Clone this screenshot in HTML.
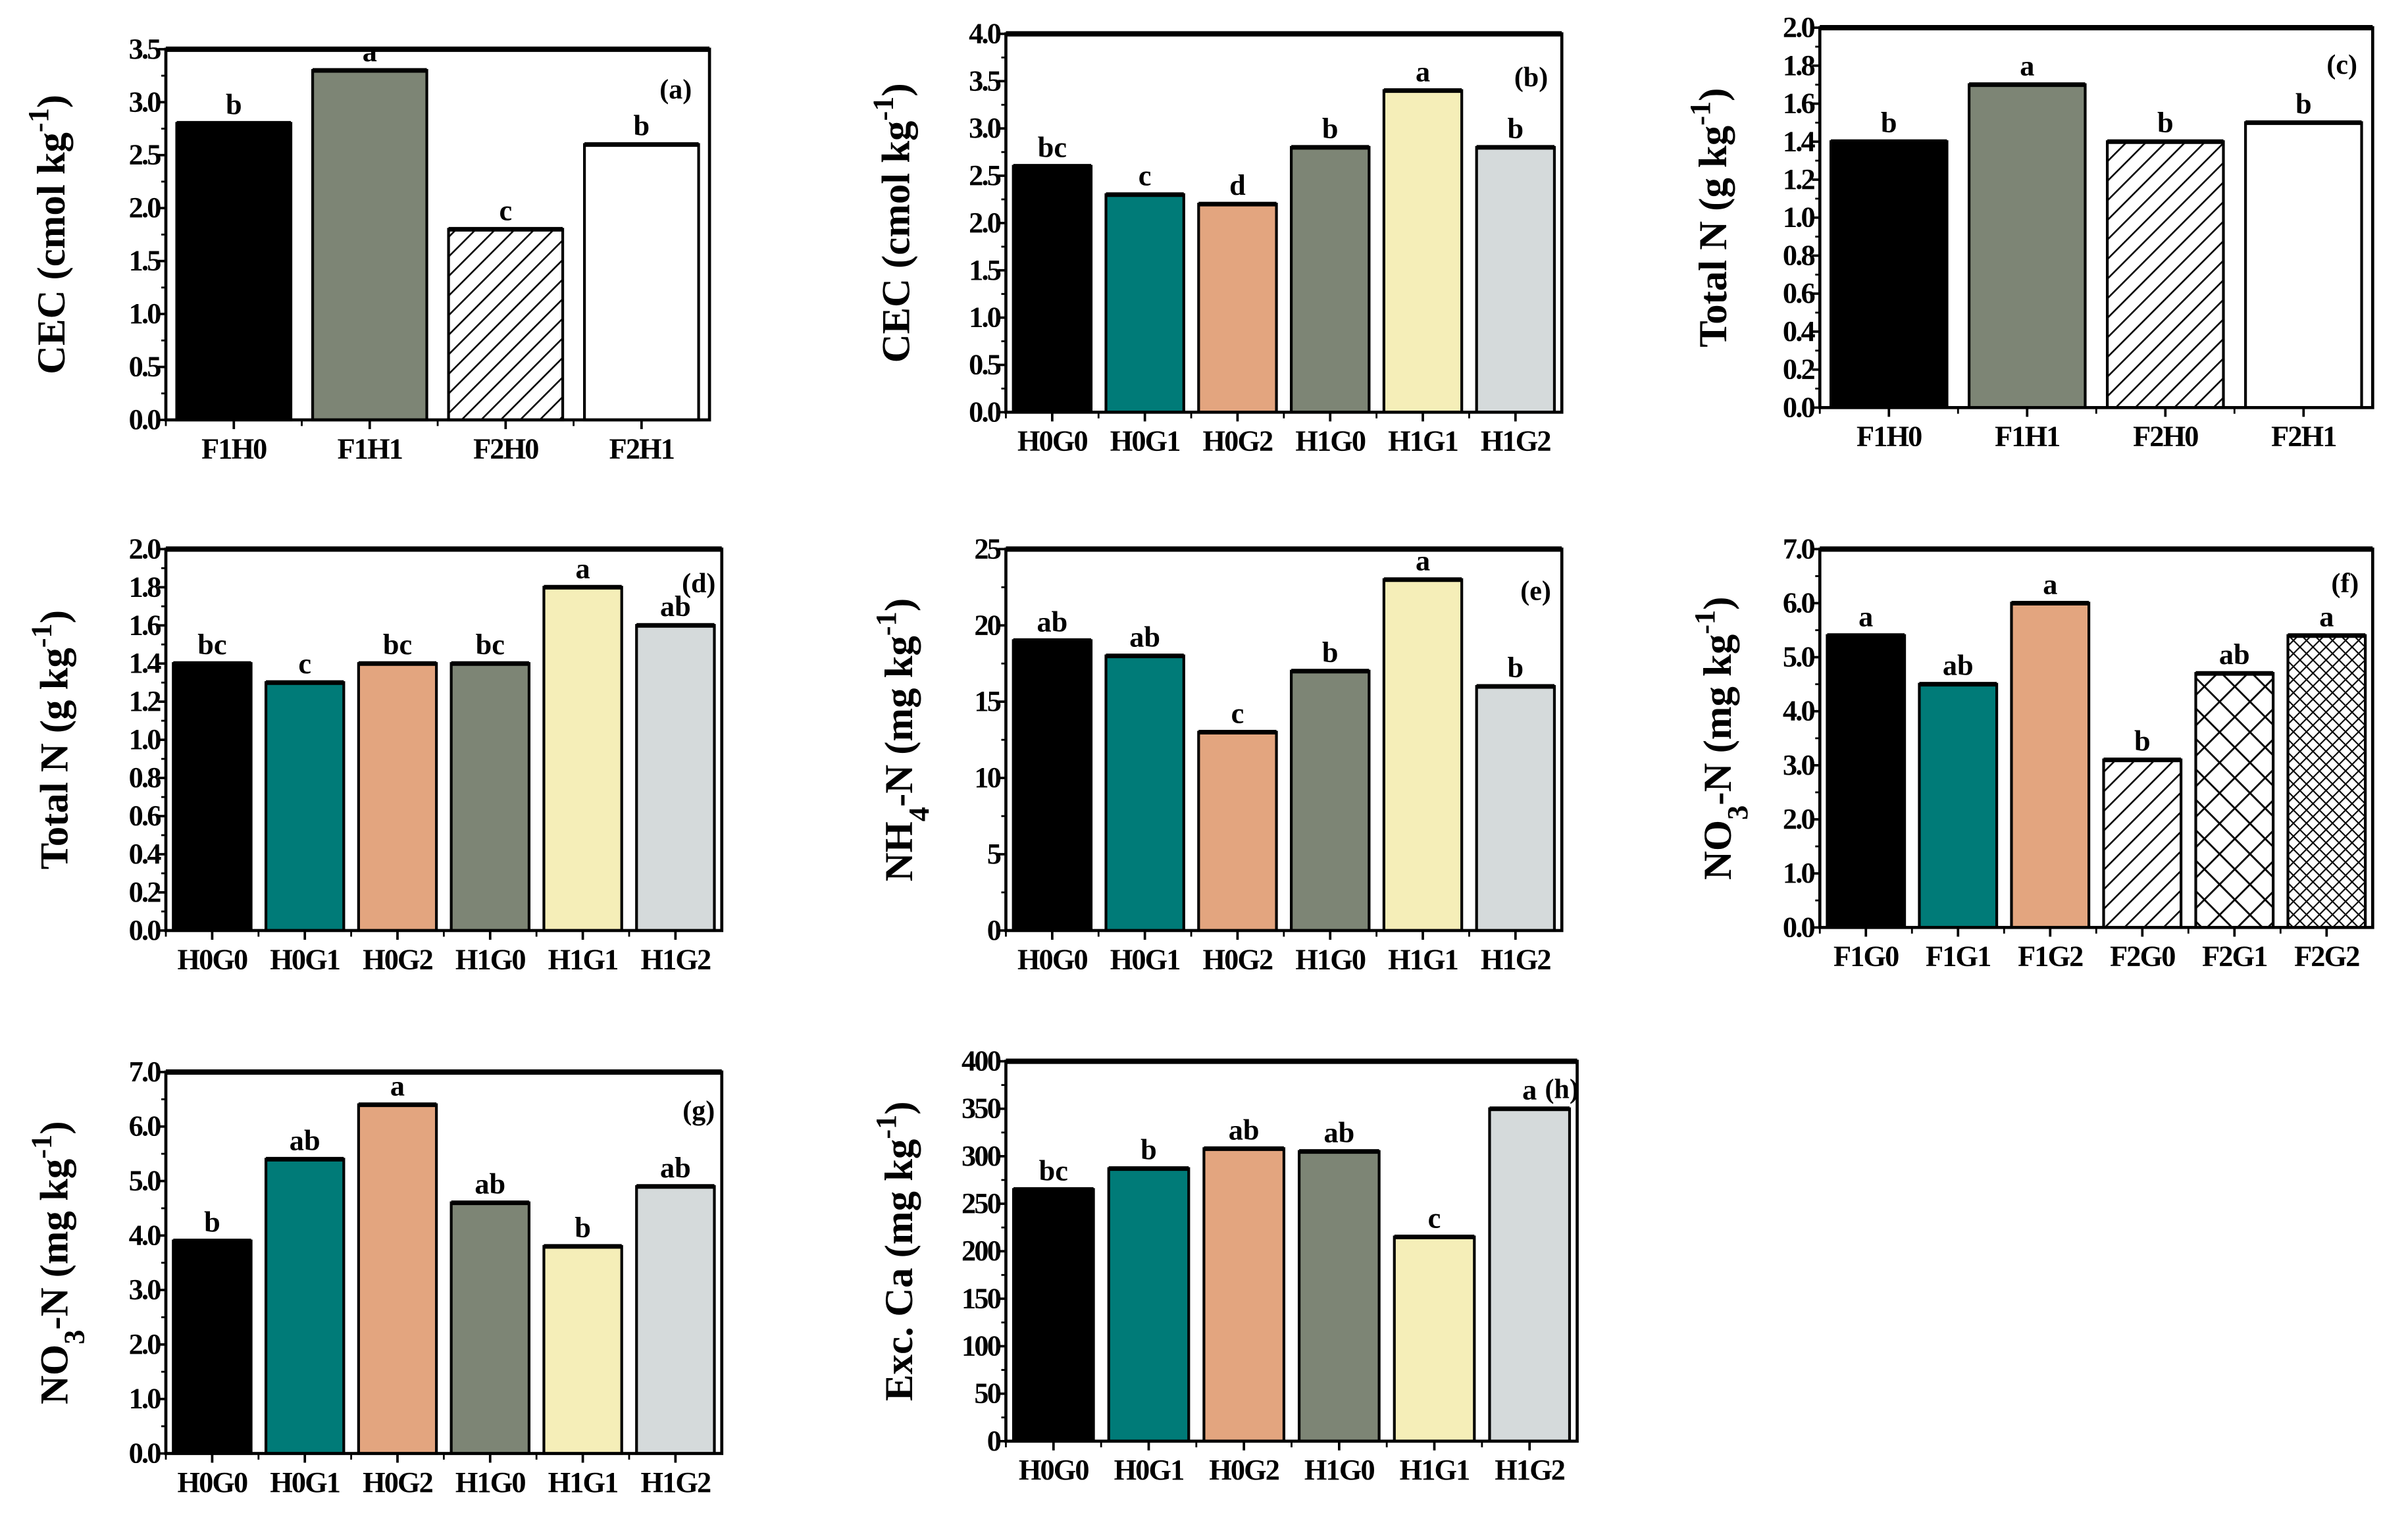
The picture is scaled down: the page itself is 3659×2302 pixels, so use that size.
<!DOCTYPE html>
<html><head><meta charset="utf-8"><style>
html,body{margin:0;padding:0;background:#fff;}
svg{display:block;}
text{font-family:"Liberation Serif",serif;font-weight:bold;fill:#000;}
</style></head><body>
<svg id="fig" width="3659" height="2302" viewBox="0 0 1568 985" preserveAspectRatio="none" xmlns="http://www.w3.org/2000/svg">
<defs>
<pattern id="hatch" patternUnits="userSpaceOnUse" width="9" height="9" patternTransform="rotate(45)"><rect width="9" height="9" fill="#fff"/><line x1="0" y1="0" x2="0" y2="9" stroke="#000" stroke-width="2.2"/></pattern>
<pattern id="cross" patternUnits="userSpaceOnUse" width="14" height="14" patternTransform="rotate(45)"><rect width="14" height="14" fill="#fff"/><line x1="0" y1="0" x2="0" y2="14" stroke="#000" stroke-width="2.4"/><line x1="0" y1="0" x2="14" y2="0" stroke="#000" stroke-width="2.4"/></pattern>
<pattern id="fine" patternUnits="userSpaceOnUse" width="6" height="6" patternTransform="rotate(45)"><rect width="6" height="6" fill="#fff"/><line x1="0" y1="0" x2="0" y2="6" stroke="#000" stroke-width="1.8"/><line x1="0" y1="0" x2="6" y2="0" stroke="#000" stroke-width="1.8"/></pattern>
</defs>
</svg>
<script>
// ---- data ----
const catsFH = ["F1H0","F1H1","F2H0","F2H1"];
const catsHG = ["H0G0","H0G1","H0G2","H1G0","H1G1","H1G2"];
const catsFG = ["F1G0","F1G1","F1G2","F2G0","F2G1","F2G2"];
const valsA = [2.8,3.3,1.8,2.6];
const sigA = ["b","a","c","b"];
const valsB = [2.6,2.3,2.2,2.8,3.4,2.8];
const sigB = ["bc","c","d","b","a","b"];
const valsC = [1.4,1.7,1.4,1.5];
const sigC = ["b","a","b","b"];
const valsD = [1.4,1.3,1.4,1.4,1.8,1.6];
const sigD = ["bc","c","bc","bc","a","ab"];
const valsE = [19,18,13,17,23,16];
const sigE = ["ab","ab","c","b","a","b"];
const valsF = [5.4,4.5,6.0,3.1,4.7,5.4];
const sigF = ["a","ab","a","b","ab","a"];
const valsG = [3.9,5.4,6.4,4.6,3.8,4.9];
const sigG = ["b","ab","a","ab","b","ab"];
const valsH = [265,287,308,305,215,350];
const sigH = ["bc","b","ab","ab","c","a"];
const ticksA = [0,0.5,1,1.5,2,2.5,3,3.5];
const ticksB = [0,0.5,1,1.5,2,2.5,3,3.5,4];
const ticksN = [0,0.2,0.4,0.6,0.8,1,1.2,1.4,1.6,1.8,2];
const ticksE = [0,5,10,15,20,25];
const ticksNO = [0,1,2,3,4,5,6,7];
const ticksH = [0,50,100,150,200,250,300,350,400];

const fillFH = ["#000","#7d8575","url(#hatch)","#fff"];
const fillHG = ["#000","#007b78","#e3a57f","#7d8575","#f5eeb8","#d5dadb"];
const fillFG = ["#000","#007b78","#e3a57f","url(#hatch)","url(#cross)","url(#fine)"];

const NS="http://www.w3.org/2000/svg";
const svg=document.getElementById('fig');
function el(tag,attrs,parent){const e=document.createElementNS(NS,tag);for(const k in attrs)e.setAttribute(k,attrs[k]);(parent||svg).appendChild(e);return e;}

function panel(p){
  const g=el('g',{});
  
  
  const {x0,x1,y0,y1,ticks,dec,cats,vals,sig,fills}=p;
  const ymax=ticks[ticks.length-1];
  const yS=v=>y1-(v/ymax)*(y1-y0);
  const band=(x1-x0)/cats.length;
  const xC=i=>x0+band*(i+0.5);
  const bw=band*0.84;
  vals.forEach((v,i)=>{
    const r=el('rect',{x:xC(i)-bw/2,y:yS(v),width:bw,height:y1-yS(v),fill:fills[i],stroke:'#000','stroke-width':1.8},g);
    
    
    el('line',{x1:xC(i)-bw/2,x2:xC(i)+bw/2,y1:yS(v),y2:yS(v),stroke:'#000','stroke-width':3},g);
    const t=el('text',{x:xC(i),y:yS(v)-6,'text-anchor':'middle','font-size':19},g);
    t.textContent=sig[i];
    
    
  });
  const fr=el('rect',{x:x0,y:y0,width:x1-x0,height:y1-y0,fill:'none',stroke:'#000','stroke-width':2},g);
  
  
  el('line',{x1:x0,x2:x1,y1:y0,y2:y0,stroke:'#000','stroke-width':3.5},g);
  ticks.forEach((v,i)=>{
    el('line',{x1:x0-5,x2:x0,y1:yS(v),y2:yS(v),stroke:'#000','stroke-width':1.6},g);
    if(i<ticks.length-1){const m=(v+ticks[i+1])/2;el('line',{x1:x0-3,x2:x0,y1:yS(m),y2:yS(m),stroke:'#000','stroke-width':1.2},g);}
    const t=el('text',{x:x0-4,y:yS(v)+6,'text-anchor':'end','font-size':19,'letter-spacing':'-1.2'},g);
    t.textContent=v.toFixed(dec);
    
    
  });
  cats.forEach((c,i)=>{
    el('line',{x1:xC(i),x2:xC(i),y1:y1,y2:y1+6,stroke:'#000','stroke-width':1.6},g);
    el('line',{x1:x0+band*i,x2:x0+band*i,y1:y1,y2:y1+4,stroke:'#000','stroke-width':1.2},g);
    const t=el('text',{x:xC(i),y:y1+25,'text-anchor':'middle','font-size':19,'letter-spacing':'-0.8'},g);
    t.textContent=c;
    
    
  });
  const pl=el('text',{x:p.lx,y:p.ly,'text-anchor':'middle','font-size':18},g);
  pl.textContent='('+p.id+')';
  
  
  const cy=(y0+y1)/2, cx=p.tx;
  const tt=el('text',{x:cx,y:cy,'text-anchor':'middle','font-size':26,transform:'rotate(-90 '+cx+' '+cy+')'},g);
  
  
  p.title.forEach(s=>{const ts=el('tspan',{},tt);ts.textContent=s[0];if(s[1]==='sup'){ts.setAttribute('baseline-shift','super');ts.setAttribute('font-size',19);}if(s[1]==='sub'){ts.setAttribute('baseline-shift','sub');ts.setAttribute('font-size',19);}});
}
const cec=[["CEC (cmol kg"],["-1","sup"],[")"]];
const tn=[["Total N (g kg"],["-1","sup"],[")"]];
const no3=[["NO"],["3","sub"],["-N (mg kg"],["-1","sup"],[")"]];
panel({id:'a',x0:108,x1:462,y0:32,y1:273,ticks:ticksA,dec:1,cats:catsFH,vals:valsA,sig:sigA,fills:fillFH,lx:440,ly:64,tx:42,title:cec});
panel({id:'b',x0:655,x1:1017,y0:22,y1:268,ticks:ticksB,dec:1,cats:catsHG,vals:valsB,sig:sigB,fills:fillHG,lx:997,ly:56,tx:592,title:cec});
panel({id:'c',x0:1185,x1:1545,y0:18,y1:265,ticks:ticksN,dec:1,cats:catsFH,vals:valsC,sig:sigC,fills:fillFH,lx:1525,ly:48,tx:1124,title:tn});
panel({id:'d',x0:108,x1:470,y0:357,y1:605,ticks:ticksN,dec:1,cats:catsHG,vals:valsD,sig:sigD,fills:fillHG,lx:455,ly:385,tx:44,title:tn});
panel({id:'e',x0:655,x1:1017,y0:357,y1:605,ticks:ticksE,dec:0,cats:catsHG,vals:valsE,sig:sigE,fills:fillHG,lx:1000,ly:390,tx:594,title:[["NH"],["4","sub"],["-N (mg kg"],["-1","sup"],[")"]]});
panel({id:'f',x0:1185,x1:1545,y0:357,y1:603,ticks:ticksNO,dec:1,cats:catsFG,vals:valsF,sig:sigF,fills:fillFG,lx:1527,ly:385,tx:1127,title:no3});
panel({id:'g',x0:108,x1:470,y0:697,y1:945,ticks:ticksNO,dec:1,cats:catsHG,vals:valsG,sig:sigG,fills:fillHG,lx:455,ly:728,tx:44,title:no3});
panel({id:'h',x0:655,x1:1027,y0:690,y1:937,ticks:ticksH,dec:0,cats:catsHG,vals:valsH,sig:sigH,fills:fillHG,lx:1017,ly:714,tx:594,title:[["Exc. Ca (mg kg"],["-1","sup"],[")"]]});
</script>
</body></html>
